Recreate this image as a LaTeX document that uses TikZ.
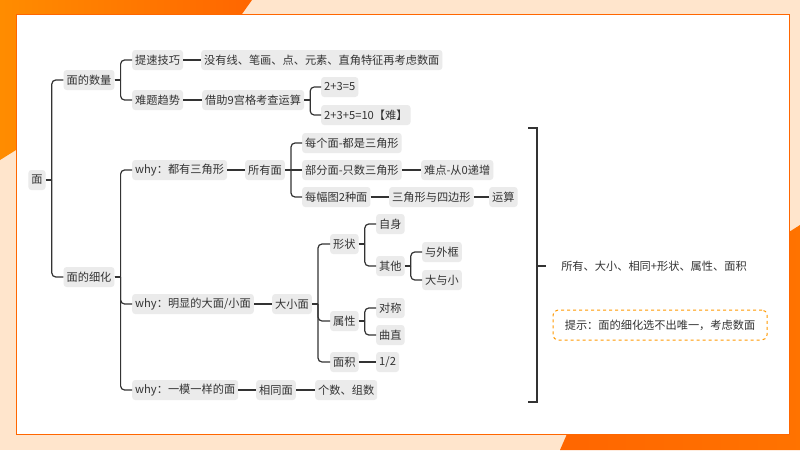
\documentclass[tikz,border=0pt]{standalone}
\usepackage{fontspec}
\setmainfont{Noto Sans CJK SC}
\begin{document}
\begin{tikzpicture}[x=1pt,y=-1pt,
  box/.style={fill=black!8,rounded corners=3pt,inner xsep=3pt,inner ysep=3pt,text=black!80,font=\fontsize{11.2}{12}\selectfont,minimum height=20pt},
  plain/.style={text=black!80,font=\fontsize{11.2}{12}\selectfont},
  conn/.style={draw=black!80,line width=1.2pt,rounded corners=4pt}]
\useasboundingbox (0,0) rectangle (800,450);
\fill[orange!20] (0,0) rectangle (800,450);
\shade[left color=orange!90!yellow,right color=orange!80!red] (0,0)--(252,0)--(242,14)--(16,14)--(16,150)--(0,160)--cycle;
\shade[left color=orange!80!red,right color=orange!90!red] (560,450)--(567,434)--(789,434)--(789,232)--(800,225)--(800,450)--cycle;
\draw[fill=white,draw=orange!80!red,line width=1pt] (16,14) rectangle (789,434);
\newcommand\tr[2]{\draw[conn] (#1.east) -- ([xshift=6pt]#1.east); \draw[conn] ([xshift=6pt]#1.east) |- (#2.west);}
\newcommand\st[2]{\draw[conn] (#1.east) -- (#2.west);}
\node[box] (m) at (37,180) {面};
\node[box] (a) at (89,80) {面的数量};
\node[box] (b) at (89,277) {面的细化};
\node[box,anchor=west] (a1) at (132,60) {提速技巧};
\node[box,anchor=west] (a2) at (132,100) {难题趋势};
\node[box,anchor=west] (a11) at (201,60) {没有线、笔画、点、元素、直角特征再考虑数面};
\node[box,anchor=west] (a21) at (202,100) {借助9宫格考查运算};
\node[box,anchor=west] (a211) at (321,87) {2+3=5};
\node[box,anchor=west] (a212) at (321,115) {2+3+5=10【难】};
\node[box,anchor=west] (b1) at (132,170) {why：都有三角形};
\node[box,anchor=west] (b11) at (245,170) {所有面};
\node[box,anchor=west] (c1) at (302,143) {每个面-都是三角形};
\node[box,anchor=west] (c2) at (302,170) {部分面-只数三角形};
\node[box,anchor=west] (c21) at (421,170) {难点-从0递增};
\node[box,anchor=west] (c3) at (302,197) {每幅图2种面};
\node[box,anchor=west] (c31) at (389,197) {三角形与四边形};
\node[box,anchor=west] (c311) at (489,197) {运算};
\node[box,anchor=west] (b2) at (132,304) {why：明显的大面/小面};
\node[box,anchor=west] (b21) at (272,304) {大小面};
\node[box,anchor=west] (d1) at (330,244) {形状};
\node[box,anchor=west] (d11) at (376,224) {自身};
\node[box,anchor=west] (d12) at (376,266) {其他};
\node[box,anchor=west] (d121) at (422,252) {与外框};
\node[box,anchor=west] (d122) at (422,280) {大与小};
\node[box,anchor=west] (d2) at (330,321) {属性};
\node[box,anchor=west] (d21) at (376,308) {对称};
\node[box,anchor=west] (d22) at (376,335) {曲直};
\node[box,anchor=west] (d3) at (330,362) {面积};
\node[box,anchor=west] (d31) at (376,362) {1/2};
\node[box,anchor=west] (b3) at (132,390) {why：一模一样的面};
\node[box,anchor=west] (b31) at (256,390) {相同面};
\node[box,anchor=west] (b311) at (315,390) {个数、组数};
\tr{m}{a}\tr{m}{b}
\tr{a}{a1}\tr{a}{a2}
\st{a1}{a11}\st{a2}{a21}
\tr{a21}{a211}\tr{a21}{a212}
\tr{b}{b1}\tr{b}{b2}\tr{b}{b3}
\st{b1}{b11}
\tr{b11}{c1}\st{b11}{c2}\tr{b11}{c3}
\st{c2}{c21}\st{c3}{c31}\st{c31}{c311}
\st{b2}{b21}
\tr{b21}{d1}\tr{b21}{d2}\tr{b21}{d3}
\tr{d1}{d11}\tr{d1}{d12}
\tr{d12}{d121}\tr{d12}{d122}
\tr{d2}{d21}\tr{d2}{d22}
\st{d3}{d31}
\st{b3}{b31}\st{b31}{b311}
\coordinate (bt) at (528,128);
\coordinate (bb) at (528,402);
\coordinate (bm) at (546,266);
\draw[draw=black!80,line width=1.2pt] (bt) -| (537,402) -- (bb);
\draw[draw=black!80,line width=1.2pt] (537,266) -- (bm);
\node[plain] (sum) at (654,266) {所有、大小、相同+形状、属性、面积};
\node[plain,draw=orange!80!yellow,dashed,line width=1pt,rounded corners=5pt,minimum width=214pt,minimum height=30pt] (tip) at (660,325) {提示：面的细化选不出唯一，考虑数面};
\end{tikzpicture}
\end{document}
